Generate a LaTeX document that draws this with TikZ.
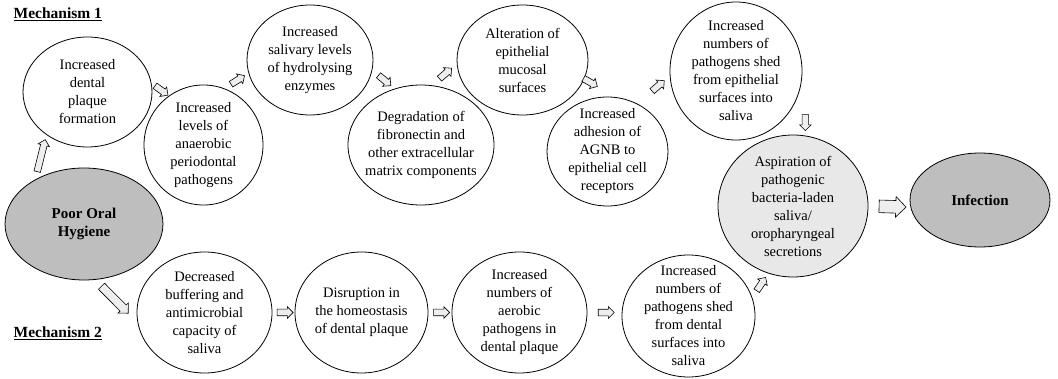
\documentclass[tikz,border=0pt]{standalone}
\usepackage{fontspec}
\setmainfont{Liberation Serif}
\usepackage{xcolor}
\definecolor{mygray}{RGB}{190,190,190}
\definecolor{mylight}{RGB}{232,232,232}
\definecolor{myarrow}{RGB}{238,238,238}
\usetikzlibrary{shapes.geometric,shapes.arrows}

\begin{document}
\begin{tikzpicture}[x=1pt,y=-1pt,line width=.8pt]
	\tikzstyle{bub}=[ellipse,draw,inner sep=0pt,outer sep=0pt,fill=white];
	\tikzstyle{dark}=[bub,fill=mygray];
	\tikzstyle{txt}=[align=center,inner sep=0pt,font=\fontsize{14.5}{18}\selectfont];
	\tikzstyle{bold}=[txt,font=\fontsize{15}{18}\selectfont\bfseries];
	\tikzstyle{blk}=[single arrow,draw,fill=myarrow,inner xsep=0pt,inner ysep=3pt,line width=.6pt,minimum height=16pt,single arrow head extend=2.5pt,sloped,allow upside down];
	\useasboundingbox (0,0) rectangle (1058,379);
	%% Headings
	\node[anchor=base west,font=\fontsize{15.5}{18}\selectfont\bfseries] (mech1) at (10,18.5) {\underline{Mechanism 1}};
	\node[anchor=base west,font=\fontsize{15.5}{18}\selectfont\bfseries] (mech2) at (10,338) {\underline{Mechanism 2}};
	%% Start and end
	\node[dark,minimum width=158pt,minimum height=112pt,label={[bold]center:{Poor Oral\\Hygiene}}] (poor) at (84,224) {};
	\node[dark,minimum width=140pt,minimum height=94pt,label={[bold]center:{Infection}}] (infect) at (980,200) {};
	\node[bub,fill=mylight,minimum width=150pt,minimum height=142pt,label={[txt]center:{Aspiration of\\pathogenic\\bacteria-laden\\saliva/\\oropharyngeal\\secretions}}] (aspir) at (793,206) {};
	%% Mechanism 1
	\node[bub,minimum width=129pt,minimum height=110pt,label={[txt]center:{Increased\\dental\\plaque\\formation}}] (plaque) at (87.5,92) {};
	\node[bub,minimum width=119pt,minimum height=120pt,label={[txt]center:{Increased\\levels of\\anaerobic\\periodontal\\pathogens}}] (levels) at (203.5,145) {};
	\node[bub,minimum width=126pt,minimum height=110pt,label={[txt]center:{Increased\\salivary levels\\of hydrolysing\\enzymes}}] (salivary) at (310,60) {};
	\node[bub,minimum width=146pt,minimum height=120pt,label={[txt]center:{Degradation of\\fibronectin and\\other extracellular\\matrix components}}] (fibro) at (421,145) {};
	\node[bub,minimum width=131pt,minimum height=110pt,label={[txt]center:{Alteration of\\epithelial\\mucosal\\surfaces}}] (mucosal) at (522.5,60) {};
	\node[bub,minimum width=121pt,minimum height=109pt,label={[txt]center:{Increased\\adhesion of\\AGNB to\\epithelial cell\\receptors}}] (adhesion) at (607.5,151.5) {};
	\node[bub,minimum width=132pt,minimum height=138pt,label={[txt]center:{Increased\\numbers of\\pathogens shed\\from epithelial\\surfaces into\\saliva}}] (epished) at (736,71) {};
	%% Mechanism 2
	\node[bub,minimum width=135pt,minimum height=121pt,label={[txt]center:{Decreased\\buffering and\\antimicrobial\\capacity of\\saliva}}] (buffer) at (204.5,312.5) {};
	\node[bub,minimum width=133pt,minimum height=121pt,label={[txt]center:{Disruption in\\the homeostasis\\of dental plaque}}] (disrupt) at (361.5,312.5) {};
	\node[bub,minimum width=135pt,minimum height=121pt,label={[txt]center:{Increased\\numbers of\\aerobic\\pathogens in\\dental plaque}}] (aerobic) at (519.5,312.5) {};
	\node[bub,minimum width=133pt,minimum height=122pt,label={[txt]center:{Increased\\numbers of\\pathogens shed\\from dental\\surfaces into\\saliva}}] (dentshed) at (688.5,316) {};
	%% Block arrows
	\path (poor.138) -- (plaque.226) node[blk,midway,minimum height=33pt] (a1) {};
	\path (plaque.8) -- (levels.125) node[blk,midway] (a2) {};
	\path (levels.70) -- (salivary.192) node[blk,midway] (a3) {};
	\path (salivary.351) -- (fibro.115) node[blk,midway] (a4) {};
	\path (fibro.80) -- (mucosal.183) node[blk,midway] (a5) {};
	\path (mucosal.343) -- (adhesion.80) node[blk,pos=.15] (a6) {};
	\path (adhesion.58) -- (epished.184) node[blk,pos=.6] (a7) {};
	\path ([yshift=30pt]aspir.80) -- (aspir.80) node[blk,midway] (a8) {};
	\path (aspir.east) -- (infect.186) node[blk,midway,minimum height=27pt,inner ysep=6pt,single arrow head extend=4pt] (a9) {};
	\path (poor.281) -- (buffer.189) node[blk,pos=.43,minimum height=38pt,inner ysep=4pt,single arrow head extend=3pt] (a10) {};
	\path (buffer.east) -- (disrupt.west) node[blk,midway] (a11) {};
	\path (disrupt.east) -- (aerobic.west) node[blk,midway] (a12) {};
	\path (aerobic.east) -- (dentshed.177) node[blk,midway] (a13) {};
	\path (dentshed.16) -- (aspir.250) node[blk,midway] (a14) {};
\end{tikzpicture}
\end{document}
